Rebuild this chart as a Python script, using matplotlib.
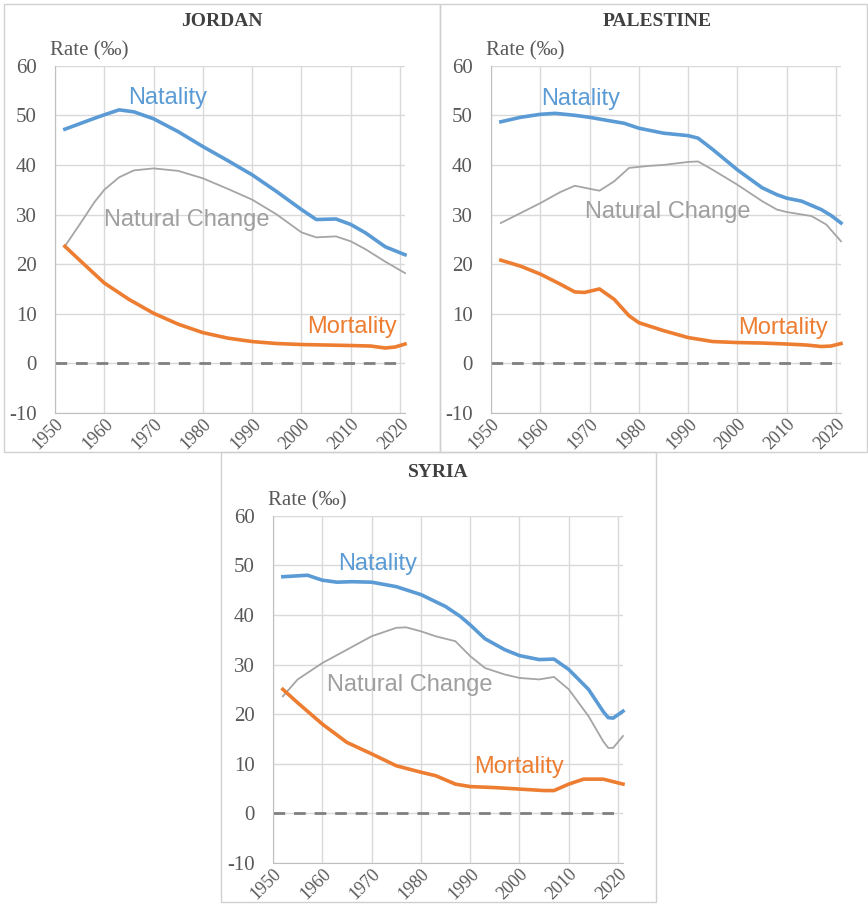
import matplotlib.pyplot as plt
from matplotlib.patches import Rectangle

plt.rcParams['axes.unicode_minus'] = False

# Jordan
jor_nat_years = [1952, 1955, 1958, 1960, 1963, 1966, 1970, 1975, 1980, 1985, 1990, 1995, 2000, 2003, 2007, 2010, 2013, 2017, 2021]
jor_nat = [47.2, 48.3, 49.4, 50.1, 51.1, 50.7, 49.3, 46.7, 43.7, 40.9, 38.0, 34.6, 31.0, 29.0, 29.1, 28.0, 26.3, 23.5, 21.9]
jor_nc_years = [1952, 1955, 1958, 1960, 1963, 1966, 1970, 1975, 1980, 1985, 1990, 1995, 2000, 2003, 2007, 2010, 2013, 2017, 2021]
jor_nc = [23.6, 28.0, 32.5, 35.0, 37.5, 38.9, 39.3, 38.8, 37.3, 35.2, 33.0, 30.0, 26.4, 25.4, 25.6, 24.6, 23.0, 20.5, 18.2]
jor_mort_years = [1952, 1955, 1960, 1965, 1970, 1975, 1980, 1985, 1990, 1995, 2000, 2005, 2010, 2014, 2017, 2019, 2021]
jor_mort = [23.6, 20.8, 16.2, 12.9, 10.1, 7.9, 6.2, 5.1, 4.4, 4.0, 3.8, 3.7, 3.6, 3.5, 3.1, 3.3, 3.9]

# Palestine
pal_nat_years = [1952, 1956, 1960, 1963, 1967, 1970, 1974, 1977, 1980, 1985, 1990, 1992, 1995, 2000, 2005, 2008, 2010, 2013, 2017, 2019, 2021]
pal_nat = [48.7, 49.6, 50.2, 50.4, 50.0, 49.6, 48.9, 48.4, 47.4, 46.4, 45.9, 45.4, 43.1, 39.0, 35.4, 34.0, 33.3, 32.7, 31.0, 29.8, 28.3]
pal_nc_years = [1952, 1956, 1960, 1964, 1967, 1970, 1972, 1975, 1978, 1982, 1985, 1990, 1992, 1995, 2000, 2005, 2008, 2010, 2015, 2018, 2021]
pal_nc = [28.3, 30.3, 32.3, 34.5, 35.8, 35.2, 34.8, 36.7, 39.4, 39.8, 40.0, 40.6, 40.7, 39.0, 36.0, 32.7, 31.0, 30.5, 29.7, 28.0, 24.6]
pal_mort_years = [1952, 1956, 1960, 1964, 1967, 1969, 1972, 1975, 1978, 1980, 1985, 1990, 1995, 2000, 2005, 2010, 2014, 2017, 2019, 2021]
pal_mort = [20.8, 19.6, 18.0, 16.0, 14.4, 14.3, 15.0, 12.9, 9.6, 8.2, 6.6, 5.2, 4.4, 4.2, 4.1, 3.9, 3.7, 3.4, 3.5, 4.0]

# Syria
syr_nat_years = [1952, 1957, 1960, 1963, 1966, 1970, 1975, 1980, 1985, 1988, 1990, 1993, 1997, 2000, 2004, 2007, 2010, 2014, 2017, 2018, 2019, 2021]
syr_nat = [47.7, 48.0, 47.0, 46.6, 46.7, 46.6, 45.7, 44.1, 41.7, 39.7, 38.0, 35.2, 33.0, 31.8, 31.0, 31.1, 29.0, 25.0, 20.5, 19.3, 19.2, 20.6]
syr_nc_years = [1952, 1955, 1960, 1965, 1970, 1975, 1977, 1980, 1983, 1987, 1990, 1993, 1997, 2000, 2004, 2007, 2010, 2014, 2017, 2018, 2019, 2021]
syr_nc = [23.6, 27.0, 30.3, 33.0, 35.7, 37.4, 37.5, 36.7, 35.7, 34.7, 31.7, 29.3, 28.0, 27.3, 27.0, 27.5, 25.0, 19.6, 14.5, 13.2, 13.2, 15.6]
syr_mort_years = [1952, 1955, 1960, 1965, 1970, 1975, 1980, 1983, 1987, 1990, 1995, 2000, 2005, 2007, 2010, 2013, 2017, 2021]
syr_mort = [25.0, 22.3, 18.0, 14.3, 12.0, 9.6, 8.3, 7.6, 5.9, 5.4, 5.2, 4.9, 4.6, 4.6, 5.9, 6.9, 6.9, 5.9]

year_ticks = list(range(1950, 2021, 10))
rate_ticks = list(range(-10, 61, 10))

BLUE = '#5b9bd5'
ORANGE = '#ed7d31'
GRAY = '#a5a5a5'
TXT = '#595959'

W, H = 868, 905
fig = plt.figure(figsize=(W / 100, H / 100), dpi=100)

# panel frames (pixels: x0, y0, x1, y1)
boxes = [(4, 4, 440, 452), (440, 4, 867, 452), (221, 452, 656, 902)]
for x0, y0, x1, y1 in boxes:
    fig.patches.append(Rectangle((x0 / W, 1 - y1 / H), (x1 - x0) / W, (y1 - y0) / H,
                                 transform=fig.transFigure, fill=False,
                                 edgecolor='#d0d0d0', lw=1))

panels = [
    dict(name='JORDAN', rect=[55, 413], tx=222, ty=22,
         nat=(jor_nat_years, jor_nat), nc=(jor_nc_years, jor_nc), mort=(jor_mort_years, jor_mort),
         nat_lbl=(1964.9, 53.4), nc_lbl=(1960.0, 28.8), mort_lbl=(2001.2, 7.4)),
    dict(name='PALESTINE', rect=[491, 413], tx=657, ty=22,
         nat=(pal_nat_years, pal_nat), nc=(pal_nc_years, pal_nc), mort=(pal_mort_years, pal_mort),
         nat_lbl=(1960.2, 53.3), nc_lbl=(1969.1, 30.5), mort_lbl=(2000.2, 7.2)),
    dict(name='SYRIA', rect=[273, 863], tx=438, ty=472,
         nat=(syr_nat_years, syr_nat), nc=(syr_nc_years, syr_nc), mort=(syr_mort_years, syr_mort),
         nat_lbl=(1963.2, 50.2), nc_lbl=(1961.0, 25.8), mort_lbl=(1990.8, 9.4)),
]

ax_w, ax_h = 350, 347.3
for p in panels:
    left, bottom = p['rect']
    ax = fig.add_axes([left / W, 1 - bottom / H, ax_w / W, ax_h / H])
    ax.set_xlim(1950, 2021)
    ax.set_ylim(-10, 60)
    ax.set_xticks(year_ticks)
    ax.set_yticks(rate_ticks)
    ax.grid(True, color='#d9d9d9', lw=1)
    ax.set_axisbelow(True)
    for s in ['top', 'right']:
        ax.spines[s].set_visible(False)
    for s in ['left', 'bottom']:
        ax.spines[s].set_color('#bfbfbf')
    ax.tick_params(length=0, colors=TXT)
    ax.tick_params(axis='y', pad=13, labelsize=15)
    ax.tick_params(axis='x', pad=2, labelsize=13)
    for lbl in ax.get_xticklabels() + ax.get_yticklabels():
        lbl.set_fontfamily('Liberation Serif')
    plt.setp(ax.get_xticklabels(), rotation=45, ha='right', rotation_mode='anchor')

    ax.axhline(0, color='#7f7f7f', lw=2, ls=(0, (4.2, 3.2)))
    ax.plot(*p['nc'], color=GRAY, lw=1.3, clip_on=False, solid_joinstyle='round')
    ax.plot(*p['mort'], color=ORANGE, lw=2.6, clip_on=False, solid_joinstyle='round')
    ax.plot(*p['nat'], color=BLUE, lw=2.6, clip_on=False, solid_joinstyle='round')

    lab_kw = dict(fontsize=17, family='Liberation Sans', va='center', ha='left')
    ax.text(*p['nat_lbl'], 'Natality', color=BLUE, **lab_kw)
    ax.text(*p['nc_lbl'], 'Natural Change', color='#9f9f9f', **lab_kw)
    ax.text(*p['mort_lbl'], 'Mortality', color=ORANGE, **lab_kw)

    ax.text(-0.014, 1.042, 'Rate (‰)', transform=ax.transAxes, ha='left', va='center',
            fontsize=15, family='Liberation Serif', color=TXT)
    fig.text(p['tx'] / W, 1 - p['ty'] / H, p['name'], ha='center', va='center',
             fontsize=14, fontweight='bold', family='Liberation Serif', color='#404040')

fig.savefig('out.png', dpi=100, facecolor='white')
